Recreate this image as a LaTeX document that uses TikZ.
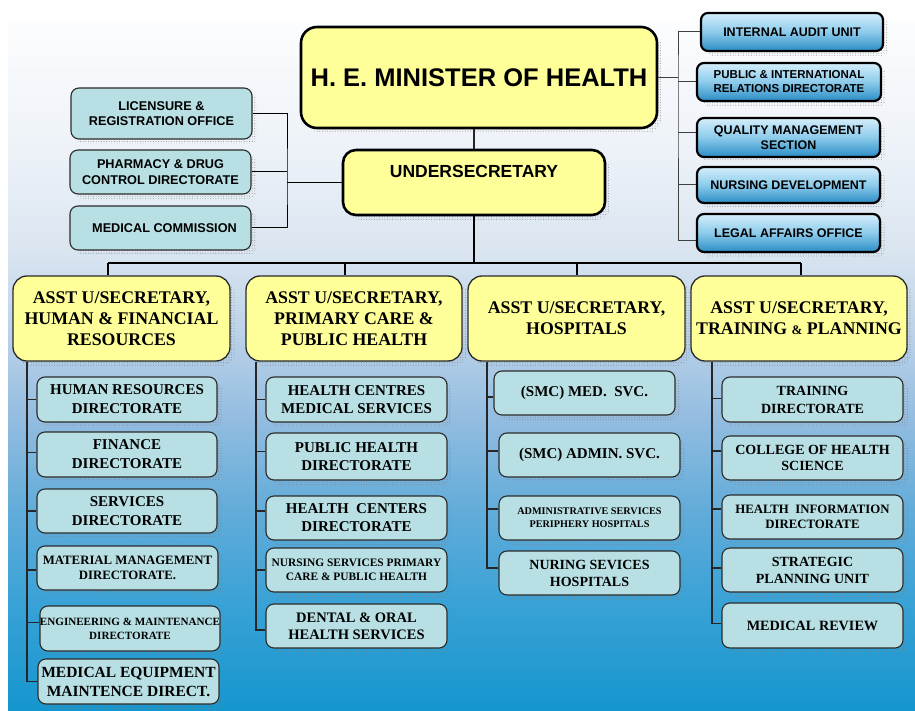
\documentclass[tikz,border=0pt]{standalone}
\usepackage{fontspec}
\setmainfont{Liberation Serif}
\newfontfamily\hsans{Liberation Sans}
\usetikzlibrary{patterns.meta}

\definecolor{ylw}{HTML}{FFFF99}
\definecolor{tealfill}{HTML}{B8E0E4}
\definecolor{bxline}{HTML}{2B2B2B}
\definecolor{bluetop}{HTML}{D4EEFB}
\definecolor{bluemid}{HTML}{8CCBEB}
\definecolor{bluebot}{HTML}{2A8CC5}
\definecolor{bg0}{HTML}{1596CE}
\definecolor{bg1}{HTML}{3AA2D6}
\definecolor{bg2}{HTML}{65ADDA}
\definecolor{bg3}{HTML}{92BCE0}
\definecolor{bg4}{HTML}{BDD3E9}
\definecolor{bg5}{HTML}{DAE5F0}
\definecolor{bg6}{HTML}{EDF2F8}
\definecolor{bg7}{HTML}{FCFDFE}

\pgfdeclareverticalshading{pagebg}{100bp}{color(0bp)=(bg0); color(25bp)=(bg0);
  color(33bp)=(bg1); color(40bp)=(bg2); color(46bp)=(bg3); color(52.6bp)=(bg4);
  color(58.4bp)=(bg5); color(65.6bp)=(bg6); color(75bp)=(bg7); color(100bp)=(bg7)}

% box from its corner coordinates: [extra options]{style}{name}{x1}{y1}{x2}{y2}{text}
\newcommand\orgbox[8][]{%
  \pgfmathsetmacro\obx{(#4+#6)/2}%
  \pgfmathsetmacro\oby{(#5+#7)/2}%
  \pgfmathsetmacro\obw{#6-#4}%
  \pgfmathsetmacro\obh{#7-#5}%
  \node[#2, minimum width=\obw pt, minimum height=\obh pt, #1] (#3) at (\obx,\oby) {#8};}

\begin{document}
\begin{tikzpicture}[x=1pt,y=-1pt,
  shadowed/.style={preaction={pattern={Dots[radius=0.45pt,distance=2.6pt]},
      pattern color=black!50, transform canvas={xshift=5pt,yshift=-5pt}}},
  chief/.style={shadowed, draw=black, line width=2.6pt, rounded corners=16pt,
      fill=ylw, inner sep=0pt, align=center,
      font=\hsans\bfseries\fontsize{25.5}{30}\selectfont},
  deputy/.style={chief, rounded corners=13pt,
      font=\hsans\bfseries\fontsize{17.5}{21}\selectfont},
  asst/.style={shadowed, draw=bxline, line width=1.3pt, rounded corners=14pt,
      fill=ylw, inner sep=0pt, align=center,
      font=\bfseries\fontsize{17.8}{21}\selectfont},
  sidebox/.style={shadowed, draw=bxline, line width=1.1pt, rounded corners=8pt,
      fill=tealfill, inner sep=0pt, align=center,
      font=\hsans\bfseries\fontsize{12.7}{15.5}\selectfont},
  bluebox/.style={shadowed, draw=black, line width=2.2pt, rounded corners=7pt,
      top color=bluetop, bottom color=bluebot, middle color=bluemid,
      inner sep=0pt, align=center,
      font=\hsans\bfseries\fontsize{12.5}{15}\selectfont},
  unit/.style={shadowed, draw=bxline, line width=1.1pt, rounded corners=8pt,
      fill=tealfill, inner sep=0pt, align=center,
      font=\bfseries\fontsize{15}{19}\selectfont},
  link/.style={draw=black, line width=1pt},
  trunk/.style={draw=black, line width=1.6pt},
  colline/.style={draw=black!85, line width=1.3pt}]

\useasboundingbox (0,0) rectangle (915,711);
\fill[white] (0,0) rectangle (915,711);
\shade[shading=pagebg] (8,20) rectangle (915,711);

% ---- top level
\orgbox{chief}{minister}{301}{27}{657}{128}{H. E. MINISTER OF HEALTH}
\orgbox{deputy}{under}{343}{150}{605}{215}{UNDERSECRETARY\\[2pt]\mbox{}}

% ---- offices attached to the undersecretary
\orgbox{sidebox}{lic}{71}{88}{252}{139}{LICENSURE \&\\REGISTRATION OFFICE}
\orgbox{sidebox}{pha}{70}{150}{251}{194}{PHARMACY \& DRUG\\CONTROL DIRECTORATE}
\orgbox{sidebox}{med}{70}{206}{251}{250}{\hspace*{8pt}MEDICAL COMMISSION}

% ---- offices attached to the minister
\orgbox{bluebox}{iau}{701}{13}{883}{51}{INTERNAL AUDIT UNIT}
\orgbox[font=\hsans\bfseries\fontsize{11.5}{14}\selectfont]{bluebox}{pir}{697}{63}{881}{101}{PUBLIC \& INTERNATIONAL\\RELATIONS DIRECTORATE}
\orgbox{bluebox}{qms}{697}{118}{880}{157}{QUALITY MANAGEMENT\\SECTION}
\orgbox{bluebox}{nd}{697}{167}{880}{203}{NURSING DEVELOPMENT}
\orgbox{bluebox}{leg}{697}{214}{880}{252}{LEGAL AFFAIRS OFFICE}

% ---- assistant undersecretaries
\orgbox{asst}{a1}{13}{276}{230}{361}{ASST U/SECRETARY,\\HUMAN \& FINANCIAL\\RESOURCES}
\orgbox{asst}{a2}{246}{276}{462}{361}{ASST U/SECRETARY,\\PRIMARY CARE \&\\PUBLIC HEALTH}
\orgbox{asst}{a3}{468}{276}{685}{361}{ASST U/SECRETARY,\\HOSPITALS}
\orgbox{asst}{a4}{691}{276}{907}{361}{ASST U/SECRETARY,\\TRAINING {\fontsize{13}{21}\selectfont\&} PLANNING}

% ---- human & financial resources
\orgbox{unit}{hr}{37}{377}{217}{422}{HUMAN RESOURCES\\DIRECTORATE}
\orgbox{unit}{fin}{37}{432}{217}{477}{FINANCE\\DIRECTORATE}
\orgbox{unit}{srv}{37}{489}{217}{533}{SERVICES\\DIRECTORATE}
\orgbox[font=\bfseries\fontsize{12.8}{15}\selectfont]{unit}{mat}{37}{546}{218}{590}{MATERIAL MANAGEMENT\\DIRECTORATE.}
\orgbox[font=\bfseries\fontsize{11.1}{14}\selectfont]{unit}{eng}{40}{606}{220}{651}{ENGINEERING \& MAINTENANCE\\DIRECTORATE}
\orgbox[font=\bfseries\fontsize{15.5}{19}\selectfont]{unit}{meq}{38}{659}{219}{704}{MEDICAL EQUIPMENT\\MAINTENCE DIRECT.}

% ---- primary care & public health
\orgbox[font=\bfseries\fontsize{15}{18}\selectfont]{unit}{hcm}{266}{377}{447}{422}{HEALTH CENTRES\\MEDICAL SERVICES}
\orgbox[font=\bfseries\fontsize{15}{18}\selectfont]{unit}{phd}{266}{433}{447}{480}{PUBLIC HEALTH\\DIRECTORATE}
\orgbox[font=\bfseries\fontsize{15}{18}\selectfont]{unit}{hcd}{266}{496}{447}{540}{HEALTH\ \ CENTERS\\DIRECTORATE}
\orgbox[font=\bfseries\fontsize{11.4}{14}\selectfont]{unit}{nsp}{266}{548}{447}{592}{NURSING SERVICES PRIMARY\\CARE \& PUBLIC HEALTH}
\orgbox[font=\bfseries\fontsize{14.5}{17}\selectfont]{unit}{den}{266}{604}{447}{648}{DENTAL \& ORAL\\HEALTH SERVICES}

% ---- hospitals
\orgbox{unit}{smcm}{494}{371}{675}{415}{(SMC) MED.\ \ SVC.}
\orgbox{unit}{smca}{499}{433}{680}{477}{(SMC) ADMIN. SVC.}
\orgbox[font=\bfseries\fontsize{10.2}{13}\selectfont]{unit}{adm}{499}{496}{680}{540}{ADMINISTRATIVE SERVICES\\PERIPHERY HOSPITALS}
\orgbox[font=\bfseries\fontsize{14}{17}\selectfont]{unit}{nur}{499}{551}{680}{595}{NURING SEVICES\\HOSPITALS}

% ---- training & planning
\orgbox[font=\bfseries\fontsize{14}{18}\selectfont]{unit}{trn}{722}{377}{903}{422}{TRAINING\\DIRECTORATE}
\orgbox[font=\bfseries\fontsize{14}{16.5}\selectfont]{unit}{col}{722}{436}{903}{480}{COLLEGE OF HEALTH\\SCIENCE}
\orgbox[font=\bfseries\fontsize{12.8}{14.5}\selectfont]{unit}{hid}{722}{495}{903}{539}{HEALTH\ \ INFORMATION\\DIRECTORATE}
\orgbox[font=\bfseries\fontsize{14}{17}\selectfont]{unit}{spu}{722}{548}{903}{592}{STRATEGIC\\PLANNING UNIT}
\orgbox[font=\bfseries\fontsize{14.2}{17}\selectfont]{unit}{mrv}{722}{603}{903}{648}{MEDICAL REVIEW}

% ---- connectors: minister and undersecretary
\draw[colline] (under.north) -- (under.north |- minister.south);

\coordinate (lj) at (287,182.5);
\draw[link] (lic.east) -| (lj) |- (med.east);
\draw[link] (pha.east) -- (pha.east -| lj);
\draw[link] (lj) -- (under.west);

\coordinate (rj) at (678,77.5);
\draw[link, draw=black!75] (minister.east) -- (rj);
\draw[link, draw=black!75] (iau.west) -| (rj) |- ([yshift=-8pt]leg.west);
\draw[link, draw=black!75] (pir.west) -- (pir.west -| rj);
\draw[link, draw=black!75] ([yshift=5pt]qms.west) -- ([yshift=5pt]qms.west -| rj);
\draw[link, draw=black!75] (nd.west) -- (nd.west -| rj);

% ---- connectors: bus to the assistant undersecretaries
\coordinate (d1) at (108,263);
\coordinate (d2) at (345,263);
\coordinate (d3) at (577,263);
\coordinate (d4) at (801,263);
\draw[trunk] (under.south) -- (under.south |- d1);
\draw[trunk] (d1) -- (d4);
\draw[trunk] (d1) -- (d1 |- a1.north);
\draw[trunk] (d2) -- (d2 |- a2.north);
\draw[trunk] (d3) -- (d3 |- a3.north);
\draw[trunk] (d4) -- (d4 |- a4.north);

% ---- connectors: columns
\coordinate (c1) at (27,0);
\coordinate (c2) at (256,0);
\coordinate (c3) at (487,0);
\coordinate (c4) at (712,0);

\draw[colline] (a1.south -| c1) |- (meq.west);
\foreach \u/\dy in {hr/0, fin/2, srv/0, mat/-2, eng/6}
  \draw[colline] ([yshift=\dy pt]\u.west) -- ([yshift=\dy pt]\u.west -| c1);

\draw[colline] (a2.south -| c2) |- ([yshift=-4pt]den.west);
\foreach \u/\dy in {hcm/0, phd/5, hcd/7, nsp/0}
  \draw[colline] ([yshift=\dy pt]\u.west) -- ([yshift=\dy pt]\u.west -| c2);

\draw[colline] (a3.south -| c3) |- ([yshift=5pt]nur.west);
\foreach \u/\dy in {smcm/-4, smca/4, adm/9}
  \draw[colline] ([yshift=\dy pt]\u.west) -- ([yshift=\dy pt]\u.west -| c3);

\draw[colline] (a4.south -| c4) |- ([yshift=2pt]mrv.west);
\foreach \u/\dy in {trn/1, col/7, hid/8, spu/2}
  \draw[colline] ([yshift=\dy pt]\u.west) -- ([yshift=\dy pt]\u.west -| c4);
\end{tikzpicture}
\end{document}
